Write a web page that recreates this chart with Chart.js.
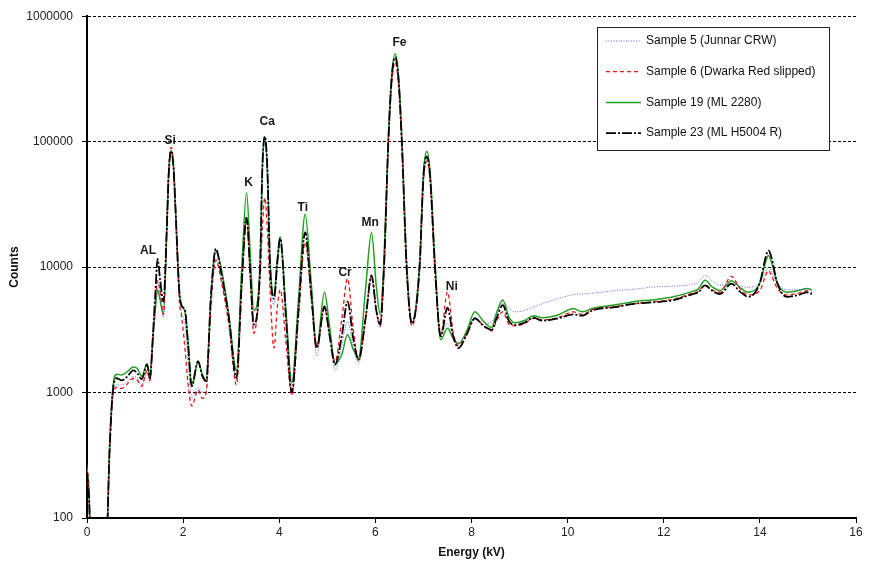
<!DOCTYPE html>
<html lang="en">

<head>
    <meta charset="UTF-8">
    <title>XRF spectra</title>
    <script src="https://cdn.jsdelivr.net/npm/chart.js@4.4.9/dist/chart.umd.min.js"></script>
    <style>
        body { margin: 0; background: #fff; }
        canvas { display: block; }
    </style>
</head>

<body>
    <canvas id="espectro" width="873" height="568"></canvas>

    <script>
    // energia (kV) comum a todas as amostras
    const energia = [
        0.00, 0.04, 0.08, 0.40, 0.47, 0.54, 0.62, 0.72, 0.82, 0.97,
        1.05, 1.14, 1.25, 1.31, 1.37, 1.42, 1.47, 1.52, 1.59, 1.66,
        1.70, 1.75, 1.80, 1.84, 1.92, 1.97, 2.04, 2.10, 2.18, 2.31,
        2.40, 2.48, 2.58, 2.68, 2.80, 2.95, 3.11, 3.22, 3.32, 3.40,
        3.47, 3.60, 3.65, 3.70, 3.75, 3.81, 3.89, 3.96, 4.02, 4.14,
        4.26, 4.40, 4.54, 4.66, 4.78, 4.94, 5.05, 5.16, 5.30, 5.42,
        5.54, 5.65, 5.80, 5.92, 6.02, 6.10, 6.18, 6.27, 6.34, 6.41,
        6.48, 6.55, 6.65, 6.76, 6.92, 7.00, 7.07, 7.14, 7.24, 7.36,
        7.50, 7.62, 7.73, 7.90, 8.07, 8.25, 8.42, 8.52, 8.65, 8.78,
        8.90, 9.10, 9.29, 9.47, 9.80, 10.12, 10.30, 10.53, 11.00, 11.37,
        11.80, 12.20, 12.60, 12.72, 12.86, 13.00, 13.17, 13.41, 13.58, 13.76,
        14.00, 14.12, 14.18, 14.24, 14.36, 14.56, 14.80, 14.98, 15.08
    ];

    const amostra5 = [
        240, 150, 60, 60, 330, 950, 1150, 1150, 1200, 1350,
        1300, 1150, 1450, 1200, 2600, 5000, 7600, 6000, 4000, 20000,
        55000, 84000, 62000, 30000, 6000, 4300, 3500, 1800, 900, 1100,
        1000, 1050, 5500, 11500, 7800, 3700, 1250, 7000, 24000, 8200,
        3300, 9500, 58000, 100000, 58000, 9500, 5000, 9500, 15000, 3500,
        1000, 4500, 19500, 6500, 1950, 5000, 2800, 1500, 2400, 3670,
        2300, 1700, 3900, 8300, 4300, 3300, 10000, 100000, 310000, 460000,
        310000, 100000, 10000, 3500, 10000, 50000, 74000, 50000, 10000, 2900,
        3560, 2700, 2500, 3000, 4000, 3500, 3700, 4200, 5100, 4700,
        4400, 4500, 4800, 5100, 5600, 6040, 6100, 6200, 6500, 6650,
        6950, 7050, 7300, 7600, 8600, 7800, 7160, 7400, 7100, 6900,
        7500, 9200, 10000, 9200, 7500, 6600, 6600, 6700, 6500
    ];

    const amostra6 = [
        260, 180, 60, 60, 320, 950, 1100, 1080, 1150, 1300,
        1250, 1120, 1500, 1250, 2700, 5200, 7800, 6500, 4200, 21000,
        59000, 90000, 66000, 30000, 5500, 4000, 2200, 1200, 780, 1050,
        900, 1000, 5000, 11400, 7500, 3500, 1150, 7000, 25000, 8000,
        2970, 8000, 21000, 35700, 21000, 6500, 2260, 4800, 6600, 2500,
        950, 4000, 15800, 6000, 2300, 4700, 2900, 1750, 3800, 8100,
        3200, 1800, 4000, 8500, 4500, 3400, 9500, 95000, 290000, 430000,
        290000, 95000, 9500, 3400, 9500, 47600, 70000, 47600, 9000, 2900,
        6340, 3000, 2350, 2950, 3900, 3400, 3100, 3700, 4400, 3500,
        3400, 3550, 3900, 3800, 3950, 4400, 4200, 4600, 4850, 5100,
        5300, 5550, 6200, 6400, 7200, 6600, 6300, 8440, 6800, 6000,
        6500, 8600, 9400, 8600, 6800, 6000, 6200, 6500, 6300
    ];

    const amostra19 = [
        250, 160, 60, 60, 380, 1100, 1400, 1380, 1450, 1600,
        1550, 1350, 1700, 1350, 2600, 4500, 6600, 5500, 4200, 20000,
        56000, 85000, 63000, 30000, 6500, 4900, 4400, 2600, 1150, 1750,
        1400, 1250, 6000, 13500, 9500, 4200, 1500, 10000, 39000, 12000,
        4500, 10000, 64000, 110000, 64000, 11000, 6000, 11500, 17500, 4500,
        1200, 5500, 26400, 8000, 2300, 6340, 3300, 1700, 2000, 2900,
        2200, 1900, 7000, 18900, 7000, 4200, 12000, 110000, 340000, 500000,
        340000, 110000, 11000, 3600, 11000, 57000, 83600, 57000, 11000, 2630,
        3250, 2700, 2450, 3100, 4400, 3700, 3300, 4300, 5460, 4000,
        3600, 3750, 4100, 3950, 4150, 4680, 4400, 4700, 5000, 5300,
        5500, 5800, 6400, 6700, 7850, 7000, 6500, 7800, 6900, 6300,
        7500, 11000, 12400, 11000, 7500, 6300, 6500, 6740, 6600
    ];

    const amostra23 = [
        230, 150, 60, 60, 350, 1050, 1300, 1250, 1320, 1500,
        1420, 1280, 1680, 1300, 2800, 6000, 11600, 8000, 5300, 20000,
        55000, 84000, 62000, 30000, 6500, 4900, 4500, 2500, 1120, 1780,
        1350, 1230, 6000, 14000, 8700, 4000, 1310, 7500, 24800, 8500,
        3500, 10000, 64000, 110000, 64000, 10000, 5600, 11000, 17000, 4000,
        1000, 4500, 18900, 6500, 2260, 4830, 2800, 1670, 2800, 5300,
        2700, 1830, 4000, 8600, 4500, 3500, 10000, 100000, 320000, 471000,
        320000, 100000, 10000, 3560, 10000, 52000, 76400, 52000, 10000, 2800,
        4740, 2800, 2260, 2900, 3900, 3400, 3160, 3900, 4980, 3700,
        3460, 3600, 3950, 3740, 3900, 4200, 4100, 4550, 4800, 5100,
        5250, 5450, 6100, 6300, 7160, 6500, 6100, 7380, 6400, 5800,
        7500, 12000, 13560, 12000, 7500, 5800, 6000, 6300, 6100
    ];

    const yTicks = [100, 1000, 10000, 100000, 1000000];

    // rótulos dos picos
    const picoNomes = ['AL', 'Si', 'K', 'Ca', 'Ti', 'Cr', 'Mn', 'Fe', 'Ni'];
    const picoEnergia = [1.27, 1.73, 3.36, 3.75, 4.49, 5.37, 5.89, 6.50, 7.59];
    const picoContagem = [13600, 101000, 47500, 144000, 29800, 9000, 22700, 612000, 7000];

    const fonte = '"Liberation Sans", Arial, sans-serif';

    function serie(valores) {
        return energia.map((e, i) => ({ x: e, y: valores[i] }));
    }

    const rotulosPicos = {
        id: 'rotulosPicos',
        afterDatasetsDraw(chart) {
            const { ctx, scales: { x, y } } = chart;
            ctx.save();
            ctx.font = 'bold 12px ' + fonte;
            ctx.fillStyle = '#1a1a1a';
            ctx.textAlign = 'center';
            ctx.textBaseline = 'middle';
            picoNomes.forEach((nome, i) => {
                ctx.fillText(nome, x.getPixelForValue(picoEnergia[i]), y.getPixelForValue(picoContagem[i]));
            });
            ctx.restore();
        }
    };

    // legenda em caixa dentro do gráfico
    const legendaCaixa = {
        id: 'legendaCaixa',
        afterDraw(chart) {
            const ctx = chart.ctx;
            const bx = 597, by = 27, bw = 232, bh = 123;
            ctx.save();
            ctx.fillStyle = '#fff';
            ctx.fillRect(bx, by, bw, bh);
            ctx.strokeStyle = '#222';
            ctx.lineWidth = 1;
            ctx.setLineDash([]);
            ctx.strokeRect(bx + 0.5, by + 0.5, bw, bh);

            ctx.font = '12px ' + fonte;
            ctx.textBaseline = 'middle';
            ctx.textAlign = 'left';
            chart.data.datasets.forEach((ds, i) => {
                const ly = by + 14 + i * 30.7;
                ctx.beginPath();
                ctx.setLineDash(ds.borderDash || []);
                ctx.strokeStyle = ds.borderColor;
                ctx.lineWidth = ds.borderWidth;
                ctx.moveTo(606, ly);
                ctx.lineTo(641, ly);
                ctx.stroke();
                ctx.setLineDash([]);
                ctx.fillStyle = '#111';
                ctx.fillText(ds.label, 646, ly);
            });
            ctx.restore();
        }
    };

    const ctx = document.getElementById('espectro').getContext('2d');

    new Chart(ctx, {
        type: 'line',
        data: {
            datasets: [
                {
                    label: 'Sample 5 (Junnar CRW)',
                    data: serie(amostra5),
                    borderColor: '#6464d8',
                    borderWidth: 1,
                    borderDash: [1, 1.5],
                    order: 2
                },
                {
                    label: 'Sample 6 (Dwarka Red slipped)',
                    data: serie(amostra6),
                    borderColor: '#f01414',
                    borderWidth: 1.3,
                    borderDash: [4, 3],
                    order: 1
                },
                {
                    label: 'Sample 19 (ML 2280)',
                    data: serie(amostra19),
                    borderColor: '#22a022',
                    borderWidth: 1.5,
                    order: 3
                },
                {
                    label: 'Sample 23 (ML H5004 R)',
                    data: serie(amostra23),
                    borderColor: '#000',
                    borderWidth: 1.8,
                    borderDash: [10, 2, 2, 2],
                    order: 0
                }
            ]
        },
        options: {
            responsive: false,
            animation: false,
            devicePixelRatio: 1,
            layout: { padding: { top: 12, right: 17, left: 0, bottom: 0 } },
            elements: {
                point: { radius: 0 },
                line: { cubicInterpolationMode: 'monotone', fill: false }
            },
            plugins: {
                legend: { display: false },
                tooltip: { enabled: false }
            },
            scales: {
                x: {
                    type: 'linear',
                    min: 0,
                    max: 16,
                    ticks: { stepSize: 2, color: '#222', padding: 2, font: { family: fonte, size: 12 } },
                    grid: { drawOnChartArea: false, tickLength: 5, tickColor: '#000', tickWidth: 1 },
                    border: { color: '#000', width: 2 },
                    title: { display: true, text: 'Energy (kV)', color: '#111', padding: { top: 0, bottom: 8 }, font: { family: fonte, size: 12, weight: 'bold' } },
                    afterFit: (s) => { s.height = 50; }
                },
                y: {
                    type: 'logarithmic',
                    min: 100,
                    max: 1000000,
                    afterBuildTicks: (s) => { s.ticks = yTicks.map(v => ({ value: v })); },
                    ticks: { color: '#222', padding: 9, font: { family: fonte, size: 12 }, callback: (v) => String(v) },
                    grid: { color: '#000', lineWidth: 1, tickLength: 5, tickColor: '#000', tickWidth: 1, tickBorderDash: [] },
                    border: { color: '#000', width: 2, dash: [3, 2] },
                    title: { display: true, text: 'Counts', color: '#111', padding: { top: 7, bottom: 0 }, font: { family: fonte, size: 12, weight: 'bold' } },
                    afterFit: (s) => { s.width = 87; }
                }
            }
        },
        plugins: [rotulosPicos, legendaCaixa]
    });
    </script>
</body>

</html>
